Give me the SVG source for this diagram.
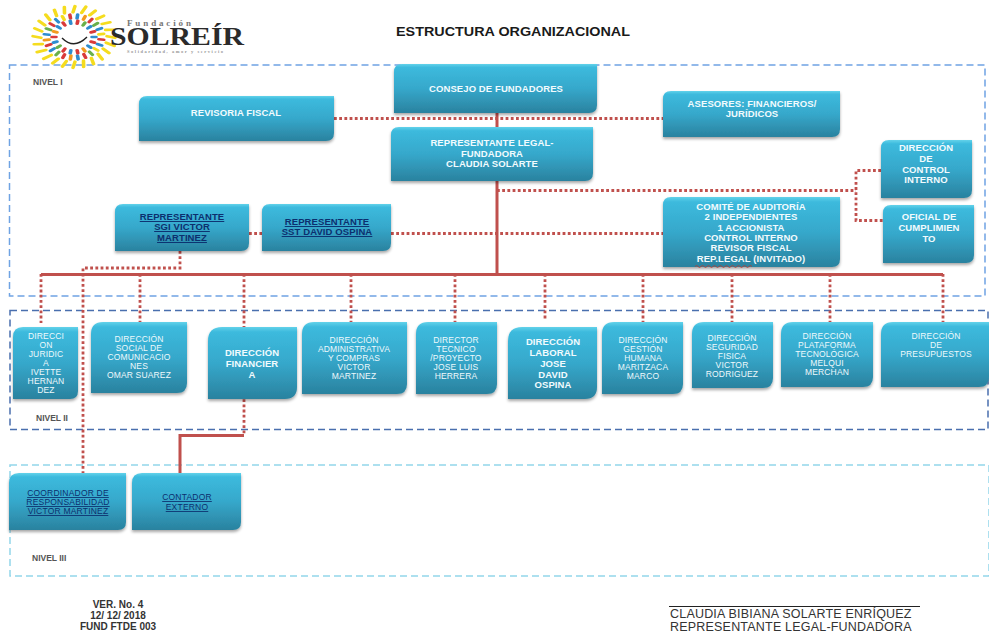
<svg xmlns="http://www.w3.org/2000/svg" width="989" height="635" viewBox="0 0 989 635">
<style>
text{font-family:"Liberation Sans",Arial,sans-serif}
.box{fill:url(#bg);filter:url(#sh)}
.w{fill:#f2fbfe;text-anchor:middle;font-size:9.500px;font-weight:bold;letter-spacing:.1px}
.s{fill:#eef9fc;text-anchor:middle;font-size:8.500px;letter-spacing:.15px}
.u{fill:#0c2f6e;text-anchor:middle;font-size:9.500px;font-weight:bold;letter-spacing:.1px;text-decoration:underline}
.us{fill:#0c2f6e;text-anchor:middle;font-size:8.500px;letter-spacing:.2px;text-decoration:underline}
.lv{fill:#555;font-size:8.500px;font-weight:bold}
.solid{fill:none;stroke:#c0504d;stroke-width:3}
.dot{fill:none;stroke:#c0504d;stroke-width:2.800;stroke-dasharray:2.800 2.400}
.fr{fill:none;stroke-width:1.500;stroke-dasharray:7 4}
.y{stroke:#f5dc1e}.r{stroke:#d93a3a}.b{stroke:#2e8ccf}.g{stroke:#6ab04a}.o{stroke:#f39a1e}
#rays line{stroke-width:3.600;stroke-linecap:round}
</style>
<defs>
<linearGradient id="bg" x1="0" y1="0" x2="0" y2="1">
<stop offset="0" stop-color="#62d2ea"/><stop offset=".07" stop-color="#3cbadd"/><stop offset=".5" stop-color="#36a8cb"/><stop offset="1" stop-color="#2a829f"/>
</linearGradient>
<filter id="sh" x="-10%" y="-10%" width="120%" height="125%"><feDropShadow dx="0" dy="2" stdDeviation="1.400" flood-color="#000" flood-opacity=".35"/></filter>
</defs>
<rect width="989" height="635" fill="#fff"/>

<g id="frames">
<rect class="fr" x="9.500" y="65" width="975.500" height="231" stroke="#6fa3e3"/>
<rect class="fr" x="10" y="310.500" width="978" height="119" stroke="#4a6fae"/>
<rect class="fr" x="10" y="465" width="979" height="111" stroke="#93d6ea"/>
</g>

<g id="logo">
<g id="rays" transform="translate(74 37) scale(1 .75)">
<line class="y" x1="33" x2="41" y1="-1" y2="1" transform="rotate(0)"/><line class="y" x1="33" x2="42" y1="-1" y2="1" transform="rotate(15)"/><line class="y" x1="33" x2="41" y1="-1" y2="1" transform="rotate(30)"/><line class="y" x1="33" x2="41" y1="-1" y2="1" transform="rotate(45)"/><line class="y" x1="33" x2="41" y1="-1" y2="1" transform="rotate(60)"/><line class="y" x1="33" x2="41" y1="-1" y2="1" transform="rotate(75)"/><line class="y" x1="33" x2="41" y1="-1" y2="1" transform="rotate(90)"/><line class="y" x1="33" x2="41" y1="-1" y2="1" transform="rotate(105)"/><line class="y" x1="33" x2="41" y1="-1" y2="1" transform="rotate(120)"/><line class="y" x1="33" x2="42" y1="-1" y2="1" transform="rotate(135)"/><line class="y" x1="33" x2="42" y1="-1" y2="1" transform="rotate(150)"/><line class="y" x1="33" x2="41" y1="-1" y2="1" transform="rotate(165)"/><line class="y" x1="33" x2="41" y1="-1" y2="1" transform="rotate(180)"/><line class="y" x1="33" x2="41" y1="-1" y2="1" transform="rotate(195)"/><line class="y" x1="33" x2="41" y1="-1" y2="1" transform="rotate(210)"/><line class="y" x1="33" x2="41" y1="-1" y2="1" transform="rotate(225)"/><line class="y" x1="33" x2="41" y1="-1" y2="1" transform="rotate(240)"/><line class="y" x1="33" x2="41" y1="-1" y2="1" transform="rotate(255)"/><line class="y" x1="33" x2="41" y1="-1" y2="1" transform="rotate(270)"/><line class="y" x1="33" x2="42" y1="-1" y2="1" transform="rotate(285)"/><line class="y" x1="33" x2="41" y1="-1" y2="1" transform="rotate(300)"/><line class="y" x1="33" x2="41" y1="-1" y2="1" transform="rotate(315)"/><line class="y" x1="33" x2="41" y1="-1" y2="1" transform="rotate(330)"/><line class="y" x1="33" x2="41" y1="-1" y2="1" transform="rotate(345)"/>
<line class="r" x1="25" x2="30" transform="rotate(7)"/><line class="b" x1="25" x2="30" transform="rotate(22)"/><line class="y" x1="25" x2="30" transform="rotate(37)"/><line class="g" x1="25" x2="30" transform="rotate(52)"/><line class="r" x1="25" x2="30" transform="rotate(67)"/><line class="b" x1="25" x2="30" transform="rotate(82)"/><line class="o" x1="25" x2="30" transform="rotate(97)"/><line class="r" x1="25" x2="30" transform="rotate(112)"/><line class="g" x1="25" x2="30" transform="rotate(127)"/><line class="b" x1="25" x2="30" transform="rotate(142)"/><line class="r" x1="25" x2="30" transform="rotate(157)"/><line class="o" x1="25" x2="30" transform="rotate(172)"/><line class="b" x1="25" x2="30" transform="rotate(187)"/><line class="g" x1="25" x2="30" transform="rotate(202)"/><line class="r" x1="25" x2="30" transform="rotate(217)"/><line class="b" x1="25" x2="30" transform="rotate(232)"/><line class="y" x1="25" x2="30" transform="rotate(247)"/><line class="r" x1="25" x2="30" transform="rotate(262)"/><line class="b" x1="25" x2="30" transform="rotate(277)"/><line class="o" x1="25" x2="30" transform="rotate(292)"/><line class="r" x1="25" x2="30" transform="rotate(307)"/><line class="g" x1="25" x2="30" transform="rotate(322)"/><line class="b" x1="25" x2="30" transform="rotate(337)"/><line class="y" x1="25" x2="30" transform="rotate(352)"/>
<line class="b" x1="18" x2="22" transform="rotate(0)"/><line class="r" x1="18" x2="22" transform="rotate(20)"/><line class="b" x1="18" x2="22" transform="rotate(40)"/><line class="o" x1="18" x2="22" transform="rotate(60)"/><line class="r" x1="18" x2="22" transform="rotate(80)"/><line class="b" x1="18" x2="22" transform="rotate(100)"/><line class="r" x1="18" x2="22" transform="rotate(120)"/><line class="g" x1="18" x2="22" transform="rotate(140)"/><line class="b" x1="18" x2="22" transform="rotate(160)"/><line class="r" x1="18" x2="22" transform="rotate(180)"/><line class="o" x1="18" x2="22" transform="rotate(200)"/><line class="b" x1="18" x2="22" transform="rotate(220)"/><line class="r" x1="18" x2="22" transform="rotate(240)"/><line class="b" x1="18" x2="22" transform="rotate(260)"/><line class="r" x1="18" x2="22" transform="rotate(280)"/><line class="g" x1="18" x2="22" transform="rotate(300)"/><line class="b" x1="18" x2="22" transform="rotate(320)"/><line class="r" x1="18" x2="22" transform="rotate(340)"/>
</g>
<path d="M62 38Q74 50 87 37" fill="none" stroke="#222" stroke-width="1.400"/>
<text x="127" y="26" font-size="9px" style="font-family:'Liberation Serif',serif" font-weight="bold" fill="#777" textLength="64" lengthAdjust="spacing">Fundación</text>
<text x="110" y="45" font-size="25px" style="font-family:'Liberation Serif',serif" font-weight="bold" fill="#2b2b2b" textLength="134" lengthAdjust="spacingAndGlyphs">SOLREÍR</text>
<text x="127" y="53" font-size="4.500px" style="font-family:'Liberation Serif',serif" font-weight="bold" fill="#999" textLength="96" lengthAdjust="spacing">Solidaridad, amor y servicio</text>
</g>

<text id="title" x="396" y="36" font-size="13px" font-weight="bold" fill="#1a1a1a" textLength="234" lengthAdjust="spacingAndGlyphs">ESTRUCTURA ORGANIZACIONAL</text>

<g id="connectors">
<path class="dot" d="M334 118.500H663"/>
<path class="dot" d="M249 233.500H262M391 233.500H663"/>
<path class="dot" d="M497 190.500H856M881 170.500H856V220.500H883"/>
<path class="dot" d="M180 251V268H83V473"/>
<path class="dot" d="M41 274V323M140 274V322M244 274V327M351 274V322M455 274V322M545 274V320M643 274V322M732 274V322M830 274V322M943 274V322"/>
<path class="dot" d="M244 394V434"/>
<path class="solid" d="M497 113V274M41 274.500H943"/>
<path class="solid" d="M244 435.500H180V473"/>
</g>

<g id="n-consejo"><path class="box" d="M394 113V72Q394 64 402 64H597V105Q597 113 589 113Z"/><text class="w" x="496" y="92">CONSEJO DE FUNDADORES</text></g>
<g id="n-revisoria"><path class="box" d="M139 141V104Q139 96 147 96H334V133Q334 141 326 141Z"/><text class="w" x="236" y="116">REVISORIA FISCAL</text></g>
<g id="n-replegal"><path class="box" d="M391 181V135Q391 127 399 127H593V173Q593 181 585 181Z"/><text class="w"><tspan x="492" y="146">REPRESENTANTE LEGAL-</tspan><tspan x="492" y="157">FUNDADORA</tspan><tspan x="492" y="167">CLAUDIA SOLARTE</tspan></text></g>
<g id="n-asesores"><path class="box" d="M663 137V99Q663 91 671 91H840V129Q840 137 832 137Z"/><text class="w"><tspan x="752" y="107">ASESORES: FINANCIEROS/</tspan><tspan x="752" y="117">JURÍDICOS</tspan></text></g>
<g id="n-control"><path class="box" d="M881 198V148Q881 140 889 140H972V190Q972 198 964 198Z"/><text class="w"><tspan x="926" y="151">DIRECCIÓN</tspan><tspan x="926" y="162">DE</tspan><tspan x="926" y="173">CONTROL</tspan><tspan x="926" y="183">INTERNO</tspan></text></g>
<g id="n-oficial"><path class="box" d="M883 263V213Q883 205 891 205H974V255Q974 263 966 263Z"/><text class="w"><tspan x="929" y="220">OFICIAL DE</tspan><tspan x="929" y="231">CUMPLIMIEN</tspan><tspan x="929" y="242">TO</tspan></text></g>
<g id="n-comite"><path class="box" d="M663 267V205Q663 197 671 197H840V259Q840 267 832 267Z"/><text class="w"><tspan x="751" y="210">COMITÉ DE AUDITORÍA</tspan><tspan x="751" y="220">2 INDEPENDIENTES</tspan><tspan x="751" y="231">1 ACCIONISTA</tspan><tspan x="751" y="241">CONTROL INTERNO</tspan><tspan x="751" y="251">REVISOR FISCAL</tspan><tspan x="751" y="262">REP.LEGAL (INVITADO)</tspan></text><path d="M695 266.500q1.500-2 3 0t3 0t3 0t3 0t3 0t3 0t3 0t3 0t3 0t3 0t3 0t3 0t3 0t3 0t3 0t3 0t3 0t3 0t3 0" fill="none" stroke="#c0392b" stroke-width=".8"/></g>
<g id="n-repsgi"><path class="box" d="M115 251V212Q115 204 123 204H249V243Q249 251 241 251Z"/><text class="u"><tspan x="182" y="220">REPRESENTANTE</tspan><tspan x="182" y="230">SGI VICTOR</tspan><tspan x="182" y="241">MARTINEZ</tspan></text></g>
<g id="n-repsst"><path class="box" d="M262 251V212Q262 204 270 204H391V243Q391 251 383 251Z"/><text class="u"><tspan x="327" y="225">REPRESENTANTE</tspan><tspan x="327" y="235">SST DAVID OSPINA</tspan></text></g>

<g id="n-juridica"><path class="box" d="M13 399V337Q13 327 23 327H78V391Q78 399 70 399Z"/><text class="s"><tspan x="46" y="339">DIRECCI</tspan><tspan x="46" y="348">ON</tspan><tspan x="46" y="357">JURIDIC</tspan><tspan x="46" y="366">A</tspan><tspan x="46" y="375">IVETTE</tspan><tspan x="46" y="384">HERNAN</tspan><tspan x="46" y="393">DEZ</tspan></text></g>
<g id="n-social"><path class="box" d="M91 393V334Q91 322 103 322H187V383Q187 393 177 393Z"/><text class="s"><tspan x="139" y="342">DIRECCIÓN</tspan><tspan x="139" y="351">SOCIAL DE</tspan><tspan x="139" y="360">COMUNICACIO</tspan><tspan x="139" y="369">NES</tspan><tspan x="139" y="378">OMAR SUAREZ</tspan></text></g>
<g id="n-financiera"><path class="box" d="M208 399V341Q208 327 222 327H297V387Q297 399 285 399Z"/><text class="w"><tspan x="252" y="356">DIRECCIÓN</tspan><tspan x="252" y="367">FINANCIER</tspan><tspan x="252" y="378">A</tspan></text></g>
<g id="n-admin"><path class="box" d="M302 394V334Q302 322 314 322H407V384Q407 394 397 394Z"/><text class="s"><tspan x="354" y="343">DIRECCIÓN</tspan><tspan x="354" y="352">ADMINISTRATIVA</tspan><tspan x="354" y="361">Y COMPRAS</tspan><tspan x="354" y="370">VICTOR</tspan><tspan x="354" y="379">MARTINEZ</tspan></text></g>
<g id="n-tecnico"><path class="box" d="M416 394V334Q416 322 428 322H497V384Q497 394 487 394Z"/><text class="s"><tspan x="456" y="343">DIRECTOR</tspan><tspan x="456" y="352">TECNICO</tspan><tspan x="456" y="361">/PROYECTO</tspan><tspan x="456" y="370">JOSE LUIS</tspan><tspan x="456" y="379">HERRERA</tspan></text></g>
<g id="n-laboral"><path class="box" d="M508 399V341Q508 327 522 327H597V387Q597 399 585 399Z"/><text class="w"><tspan x="553" y="345">DIRECCIÓN</tspan><tspan x="553" y="356">LABORAL</tspan><tspan x="553" y="367">JOSE</tspan><tspan x="553" y="378">DAVID</tspan><tspan x="553" y="388">OSPINA</tspan></text></g>
<g id="n-gestion"><path class="box" d="M602 394V334Q602 322 614 322H683V384Q683 394 673 394Z"/><text class="s"><tspan x="643" y="343">DIRECCIÓN</tspan><tspan x="643" y="352">GESTIÓN</tspan><tspan x="643" y="361">HUMANA</tspan><tspan x="643" y="370">MARITZACA</tspan><tspan x="643" y="379">MARCO</tspan></text></g>
<g id="n-seguridad"><path class="box" d="M692 388V334Q692 322 704 322H773V378Q773 388 763 388Z"/><text class="s"><tspan x="732" y="341">DIRECCIÓN</tspan><tspan x="732" y="350">SEGURIDAD</tspan><tspan x="732" y="359">FISICA</tspan><tspan x="732" y="368">VICTOR</tspan><tspan x="732" y="377">RODRIGUEZ</tspan></text></g>
<g id="n-plataforma"><path class="box" d="M781 387V334Q781 322 793 322H873V377Q873 387 863 387Z"/><text class="s"><tspan x="827" y="339">DIRECCIÓN</tspan><tspan x="827" y="348">PLATAFORMA</tspan><tspan x="827" y="357">TECNOLÓGICA</tspan><tspan x="827" y="366">MELQUI</tspan><tspan x="827" y="375">MERCHAN</tspan></text></g>
<g id="n-presupuestos"><path class="box" d="M881 387V334Q881 322 893 322H989V377Q989 387 979 387Z"/><text class="s"><tspan x="936" y="339">DIRECCIÓN</tspan><tspan x="936" y="348">DE</tspan><tspan x="936" y="357">PRESUPUESTOS</tspan></text></g>

<g id="n-coord"><path class="box" d="M9 530V483Q9 473 19 473H126V522Q126 530 118 530Z"/><text class="us"><tspan x="68" y="496">COORDINADOR DE</tspan><tspan x="68" y="505">RESPONSABILIDAD</tspan><tspan x="68" y="514">VICTOR MARTINEZ</tspan></text></g>
<g id="n-contador"><path class="box" d="M132 530V483Q132 473 142 473H241V522Q241 530 233 530Z"/><text class="us"><tspan x="187" y="500">CONTADOR</tspan><tspan x="187" y="510">EXTERNO</tspan></text></g>

<g id="labels">
<text class="lv" x="33" y="85">NIVEL I</text>
<text class="lv" x="36" y="421">NIVEL II</text>
<text class="lv" x="32" y="561">NIVEL III</text>
<g font-size="10px" font-weight="bold" fill="#333" text-anchor="middle"><text x="118" y="608">VER. No. 4</text><text x="118" y="619">12/ 12/ 2018</text><text x="118" y="630">FUND FTDE 003</text></g>
<path d="M669 606.500H920" stroke="#222" stroke-width="1"/>
<g font-size="12.500px" fill="#333" letter-spacing=".2"><text x="670" y="618">CLAUDIA BIBIANA SOLARTE ENRÍQUEZ</text><text x="670" y="631">REPRESENTANTE LEGAL-FUNDADORA</text></g>
</g>
</svg>
